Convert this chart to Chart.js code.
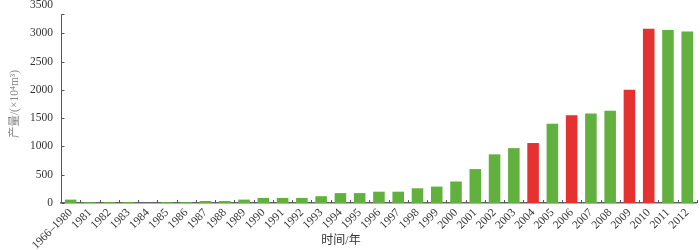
<!DOCTYPE html>
<html><head><meta charset="utf-8">
<script src="https://cdn.jsdelivr.net/npm/chart.js@4"></script>
<style>html,body{margin:0;padding:0;background:#fff}#w{width:700px;height:250px}</style>
</head><body><div id="w"><canvas id="c"></canvas></div>
<script>
const categories = ["1966–1980","1981","1982","1983","1984","1985","1986","1987","1988","1989","1990","1991","1992","1993","1994","1995","1996","1997","1998","1999","2000","2001","2002","2003","2004","2005","2006","2007","2008","2009","2010","2011","2012"];
const production = [60,15,15,15,0,15,15,35,35,60,90,90,90,120,175,175,200,200,260,290,380,600,860,970,1060,1400,1550,1580,1630,2000,3080,3060,3030];
const highlightYears = ["2004","2006","2009","2010"];
const yTicks = [0,500,1000,1500,2000,2500,3000,3500];

const GREEN = "#62b13f", RED = "#e5312f";
const FONT = "'Liberation Serif','Noto Sans CJK SC',serif";
const colors = categories.map(c => highlightYears.includes(c) ? RED : GREEN);

const axisDeco = {
  id: 'axisDeco',
  afterDatasetsDraw(chart) {
    const {ctx, chartArea, scales:{x,y}} = chart;
    ctx.save();
    ctx.strokeStyle = '#555'; ctx.lineWidth = 1;
    ctx.beginPath();
    const n = categories.length;
    for (let i = 0; i <= n; i++) {
      const px = Math.round(x.left + (x.right - x.left) * i / n) + 0.5;
      ctx.moveTo(px, chartArea.bottom); ctx.lineTo(px, chartArea.bottom - 3);
    }
    const axTop = Math.round(chartArea.top + 9) + 0.5;
    const ax = Math.round(chartArea.left) + 0.5;
    ctx.moveTo(ax, chartArea.bottom); ctx.lineTo(ax, axTop);
    ctx.moveTo(ax, axTop); ctx.lineTo(ax + 3, axTop);
    yTicks.slice(0, -1).forEach(v => {
      const py = Math.round(y.getPixelForValue(v)) + 0.5;
      ctx.moveTo(ax, py); ctx.lineTo(ax + 3, py);
    });
    ctx.stroke();
    ctx.fillStyle = '#333';
    ctx.font = "12px " + FONT;
    ctx.textAlign = 'center'; ctx.textBaseline = 'middle';
    ctx.fillText("时间/年", 341, 241);
    ctx.restore();
  }
};

new Chart(document.getElementById('c'), {
  type: 'bar',
  data: { labels: categories, datasets: [{ data: production, backgroundColor: colors, borderWidth: 0, barPercentage: 0.6, categoryPercentage: 1.0 }] },
  options: {
    responsive: true, maintainAspectRatio: false, animation: false,
    layout: { padding: { top: 5, right: 0, bottom: 0, left: 0 } },
    plugins: { legend: { display: false }, tooltip: { enabled: false } },
    scales: {
      x: {
        afterFit(s) { s.height = 47; },
        grid: { display: false, drawTicks: false },
        border: { display: true, color: '#666', width: 1.5 },
        ticks: { color: '#333', font: { family: FONT, size: 11.5 }, minRotation: 45, maxRotation: 45, autoSkip: false, padding: 3 }
      },
      y: {
        min: 0, max: 3500,
        afterBuildTicks(s) { s.ticks = yTicks.map(v => ({ value: v })); },
        afterFit(s) { s.width = 61; s.paddingTop = 0; s.paddingBottom = 0; },
        grid: { display: false, drawTicks: false },
        border: { display: false },
        ticks: { color: '#333', font: { family: FONT, size: 11.5 }, padding: 8, callback: v => String(v) },
        title: { display: true, text: "产量/(×10⁴m³)", color: '#888', font: { family: FONT, size: 11.5 }, padding: { top: 8, bottom: 2 } }
      }
    }
  },
  plugins: [axisDeco]
});
</script></body></html>
